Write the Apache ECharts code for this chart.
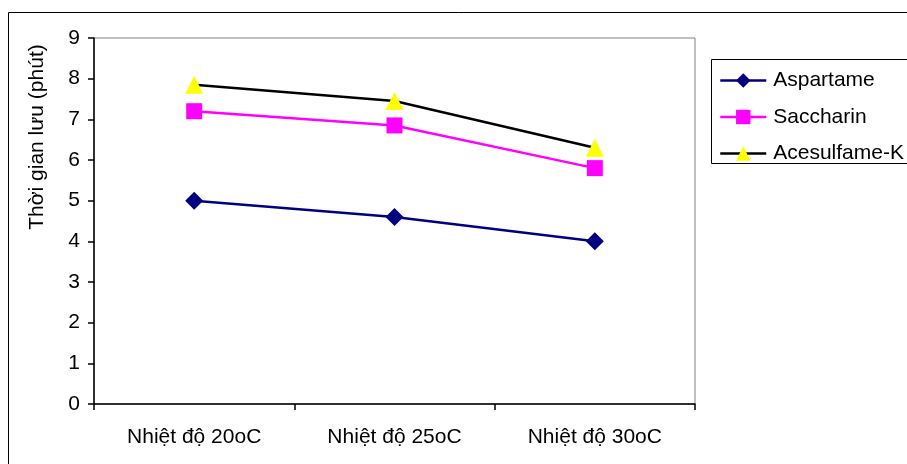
<!DOCTYPE html>
<html>
<head>
<meta charset="utf-8">
<script src="https://cdn.jsdelivr.net/npm/echarts@6/dist/echarts.min.js"></script>
<style>
  html, body { margin: 0; padding: 0; background: #fff; }
  #chart { width: 907px; height: 464px; }
</style>
</head>
<body>
<div id="chart"></div>
<script>
  // du lieu doc tu hinh
  var categories = ['Nhiệt độ 20oC', 'Nhiệt độ 25oC', 'Nhiệt độ 30oC'];
  var aspartame = [5.0, 4.6, 4.0];
  var saccharin = [7.2, 6.85, 5.8];
  var acesulfame = [7.85, 7.45, 6.3];
  var yTicks = [0, 9, 1]; // min, max, interval

  var font = 'Liberation Sans, Arial, sans-serif';
  var chart = echarts.init(document.getElementById('chart'), null, { renderer: 'canvas' });

  chart.setOption({
    backgroundColor: '#fff',
    animation: false,
    textStyle: { fontFamily: font },
    grid: {
      left: 94, top: 38, right: 212, bottom: 60,
      show: true, borderColor: '#808080', borderWidth: 1, backgroundColor: 'transparent'
    },
    graphic: [
      // khung ngoai
      { type: 'rect', shape: { x: 8.5, y: 12.5, width: 1000, height: 1000 },
        style: { fill: 'none', stroke: '#000', lineWidth: 1 }, z: -1 },
      // khung chu thich
      { type: 'rect', shape: { x: 711.5, y: 59.5, width: 300, height: 104 },
        style: { fill: '#fff', stroke: '#000', lineWidth: 1 }, z: 0 },
      { type: 'text', x: 37, y: 137, rotation: Math.PI / 2,
        style: { text: 'Thời gian lưu (phút)', fontSize: 21, fontFamily: font, fill: '#000',
                 textAlign: 'center', textVerticalAlign: 'middle' } }
    ],
    legend: {
      orient: 'vertical',
      left: 719, top: 70, padding: 0,
      itemWidth: 46, itemHeight: 18, itemGap: 15.5,
      lineStyle: { width: 2.5 },
      textStyle: { fontSize: 21, lineHeight: 20, color: '#000', fontFamily: font, padding: [0, 0, 0, 2] },
      data: ['Aspartame', 'Saccharin', 'Acesulfame-K']
    },
    xAxis: {
      type: 'category',
      data: categories,
      boundaryGap: true,
      axisLine: { lineStyle: { color: '#000', width: 1.5 } },
      axisTick: { show: true, length: 6, inside: false, lineStyle: { color: '#000', width: 1.5 } },
      axisLabel: { fontSize: 21, color: '#000', margin: 23, fontFamily: font },
      splitLine: { show: false }
    },
    yAxis: {
      type: 'value',
      min: yTicks[0], max: yTicks[1], interval: yTicks[2],
      axisLine: { show: true, lineStyle: { color: '#000', width: 1.5 } },
      axisTick: { show: true, length: 6, lineStyle: { color: '#000', width: 1.5 } },
      axisLabel: { fontSize: 21, color: '#000', margin: 14, fontFamily: font },
      splitLine: { show: false }
    },
    series: [
      {
        name: 'Aspartame', type: 'line', data: aspartame,
        symbol: 'diamond', symbolSize: 18,
        lineStyle: { color: '#000080', width: 2.5 },
        itemStyle: { color: '#000080' }
      },
      {
        name: 'Saccharin', type: 'line', data: saccharin,
        symbol: 'rect', symbolSize: 16,
        lineStyle: { color: '#FF00FF', width: 2.5 },
        itemStyle: { color: '#FF00FF' }
      },
      {
        name: 'Acesulfame-K', type: 'line', data: acesulfame,
        symbol: 'triangle', symbolSize: 18,
        lineStyle: { color: '#000', width: 2.5 },
        itemStyle: { color: '#FFFF00' }
      }
    ]
  });
</script>
</body>
</html>
